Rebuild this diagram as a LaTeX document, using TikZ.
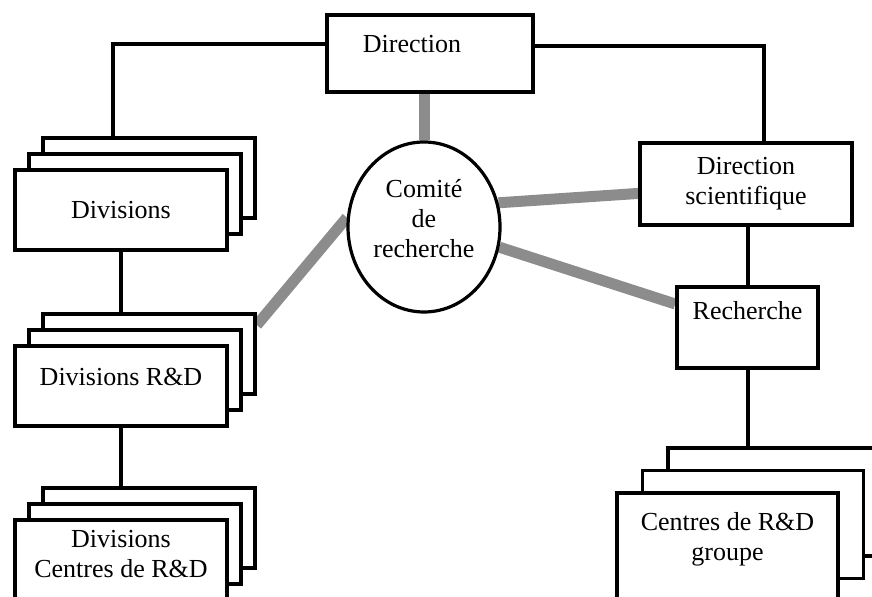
\documentclass[tikz,border=0pt]{standalone}
\usepackage{fontspec}
\setmainfont{Liberation Serif}
\usetikzlibrary{shapes.geometric, backgrounds}

\begin{document}
\begin{tikzpicture}[x=.5pt, y=-.5pt,
	box/.style={draw, line width=1.8pt, fill=white, inner sep=2pt, align=center, minimum width=106pt, minimum height=40pt},
	link/.style={draw=black!45, line width=5.5pt},
	wire/.style={line width=2pt}]
	\fontsize{13}{15}\selectfont
	\useasboundingbox (0,0) rectangle (872,597);
	\clip (0,0) rectangle (872,597);

	% top
	\node[box, minimum width=103pt, minimum height=38.5pt, text depth=9.5pt] (dir) at (430,53.5) {Direction\hspace{18pt}};

	% comite
	\node[ellipse, draw, fill=white, line width=1.6pt, minimum width=76pt, minimum height=85pt, inner sep=0pt, align=center, text depth=9pt] (com) at (424,227) {Comité\\de\\recherche};

	% left stacks, back copies first
	\foreach \n/\y in {div/210, rd/386, dc/560}{
		\foreach \d in {2,1}{
			\node[box] (\n\d) at (121+14*\d, \y-16*\d) {};
		}
	}
	\node[box] (div) at (121,210) {Divisions};
	\node[box, text depth=9pt] (rd) at (121,386) {Divisions R\&D};
	\node[box, text depth=6.5pt] (dc) at (121,560) {Divisions\\Centres de R\&D};

	% right column
	\node[box, minimum height=41pt] (dsci) at (746,184) {Direction\\scientifique};
	\node[box, minimum width=70.5pt, minimum height=40.5pt, text depth=17pt] (rech) at (747.5,327.5) {Recherche};
	\foreach \d in {2,1}{
		\node[box, minimum width=110.5pt, minimum height=54pt] (cen\d) at (727.5+25.5*\d, 547-22.5*\d) {};
	}
	\node[box, minimum width=110.5pt, minimum height=54pt, text depth=11pt] (cen) at (727.5,547) {Centres de R\&D\\groupe};

	\begin{scope}[on background layer]
		% hierarchy
		\draw[wire] (dir.175) -| ([xshift=-18pt]div2.north);
		\draw[wire] (dir.4) -| ([xshift=9pt]dsci.north);
		\draw[wire] (div.south) -- (div.south |- rd2.north);
		\draw[wire] (rd.south) -- (rd.south |- dc2.north);
		\draw[wire] (rech.north |- dsci.south) -- (rech.north);
		\draw[wire] (rech.south) -- (rech.south |- cen2.north);

		% links to the committee
		\draw[link] (com.north |- dir.south) -- (com.north);
		\draw[link] (com.173) -- (rd2.15);
		\draw[link] (com.18) -- (dsci.185);
		\draw[link] (com.-15) -- (rech.162);
	\end{scope}
\end{tikzpicture}
\end{document}
